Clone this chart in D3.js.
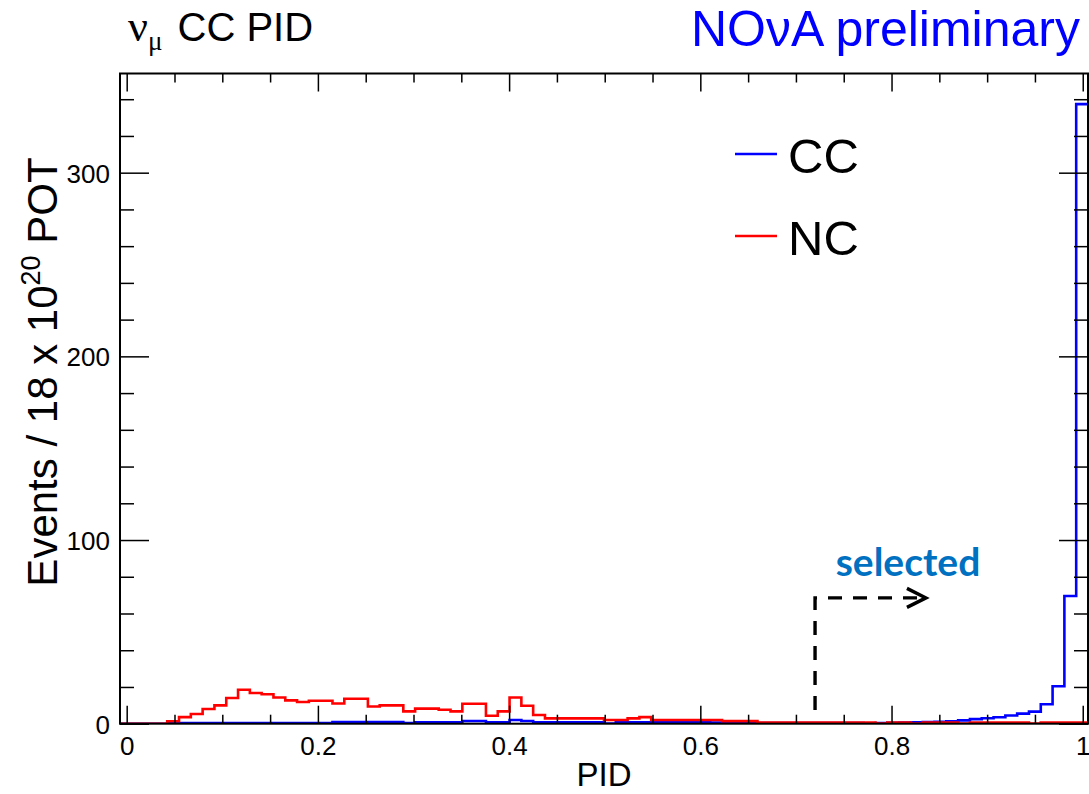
<!DOCTYPE html>
<html><head><meta charset="utf-8">
<script src="https://cdn.jsdelivr.net/npm/d3@7"></script>
<style>body{margin:0;background:#fff} svg{display:block}</style>
</head><body><svg id="c" width="1089" height="794"></svg>
<script>
// ---- data ----
const xRange = [-0.007, 1.0055];   // histogram / axis range
const nBins = 82;
const ccValues = [
  0,0,0,0,0.4,0.4,0.4,0.4,0.4,0.4,
  0.4,0.4,0.4,0.4,0.4,0.4,0.4,0.4,0.9,0.9,
  0.9,0.9,0.9,0.9,0.4,0.8,0.8,0.8,0.8,1.5,
  1.5,0.8,0.8,2.0,1.5,0.8,0.8,0.8,0.8,0.8,
  0.8,0.1,0.7,0.7,0.7,0.7,0.7,0.7,0.7,0.7,
  0.6,0.6,0.6,0.5,0.3,0.3,0.3,0.3,0.3,0.3,
  0.3,0.3,0.3,0.2,0.3,0.5,0.6,0.7,0.9,1.1,
  1.3,1.8,2.5,3.0,3.5,4.5,5.5,6.6,10.6,20.4,
  69.5,337.3
];
const ncValues = [
  0,0,0,0,1.3,3.6,5.3,8.0,10.0,14.0,
  18.5,16.7,16.0,14.3,12.7,11.8,12.5,12.5,11.0,13.6,
  13.6,9.4,10.0,10.0,6.7,8.2,8.2,7.6,6.7,10.9,
  10.9,4.3,6.7,14.3,9.8,4.7,2.9,2.9,2.9,2.9,
  2.9,2.0,2.0,2.9,3.6,2.0,2.0,2.0,2.0,2.0,
  2.0,1.4,1.4,1.4,0.6,0.6,0.6,0.6,0.6,0.6,
  0.6,0.6,0.6,0.6,0.1,0.6,0.6,0.1,0.6,0.6,
  0.6,0.1,0.6,0.6,0.6,0.6,0.6,0.1,0.6,0.6,
  0.6,0.6
];
const seriesNames = ["CC", "NC"];
const seriesColors = ["#0000ff", "#ff0000"];
const xTickValues = [0, 0.2, 0.4, 0.6, 0.8, 1];
const xTickLabels = ["0", "0.2", "0.4", "0.6", "0.8", "1"];
const xMinorValues = [0.05,0.1,0.15,0.25,0.3,0.35,0.45,0.5,0.55,0.65,0.7,0.75,0.85,0.9,0.95];
const yTickValues = [0, 100, 200, 300];
const yTickLabels = ["0", "100", "200", "300"];
const yMinorValues = [20,40,60,80,120,140,160,180,220,240,260,280,320,340];
const yMax = 354;
const selCut = 0.72, selArrowY = 68.5, selBottomY = 7.5, selArrowEnd = 0.836;

// ---- layout ----
const svg = d3.select("#c");
const L = 120, R = 1088, T = 73.5, B = 723.7;
const x = d3.scaleLinear().domain(xRange).range([L, R]);
const y = d3.scaleLinear().domain([0, yMax]).range([B, T]);
const font = "'Liberation Sans', Arial, Helvetica, sans-serif";
const serif = "'Liberation Serif', 'Times New Roman', serif";

svg.append("rect").attr("width",1089).attr("height",794).attr("fill","#fff");

svg.append("clipPath").attr("id","frameClip").append("rect")
  .attr("x",L).attr("y",T).attr("width",R-L).attr("height",B-T);

// bin edges
const edges = d3.range(nBins + 1).map(i => xRange[0] + i * (xRange[1] - xRange[0]) / nBins);
function histPts(vals){
  const p = vals.map((v,i) => [edges[i], v]);
  p.push([edges[nBins], vals[nBins-1]]);
  return p;
}
const line = d3.line().x(d => x(d[0])).y(d => y(d[1])).curve(d3.curveStepAfter);
const gH = svg.append("g").attr("clip-path","url(#frameClip)");
[ccValues, ncValues].forEach((vals, i) => {
  gH.append("path").attr("d", line(histPts(vals)))
    .attr("fill","none").attr("stroke",seriesColors[i]).attr("stroke-width",2.6);
});

// ---- axes ----
function style(g){
  g.select(".domain").remove();
  g.selectAll(".tick line").attr("stroke","#000").attr("stroke-width",1.5);
  g.selectAll("text").attr("font-family",font).attr("font-size",26).attr("fill","#000");
}
svg.append("g").attr("transform",`translate(0,${B})`)
  .call(d3.axisBottom(x).tickValues(xTickValues).tickSizeInner(-18).tickSizeOuter(0)
    .tickPadding(13).tickFormat((d,i)=>xTickLabels[i])).call(style);
svg.append("g").attr("transform",`translate(0,${B})`)
  .call(d3.axisBottom(x).tickValues(xMinorValues).tickSizeInner(-9).tickSizeOuter(0).tickFormat("")).call(style);
svg.append("g").attr("transform",`translate(0,${T})`)
  .call(d3.axisTop(x).tickValues(xTickValues).tickSizeInner(-18).tickSizeOuter(0).tickFormat("")).call(style);
svg.append("g").attr("transform",`translate(0,${T})`)
  .call(d3.axisTop(x).tickValues(xMinorValues).tickSizeInner(-9).tickSizeOuter(0).tickFormat("")).call(style);

svg.append("g").attr("transform",`translate(${L},0)`)
  .call(d3.axisLeft(y).tickValues(yTickValues).tickSizeInner(-29).tickSizeOuter(0)
    .tickPadding(10).tickFormat((d,i)=>yTickLabels[i])).call(style)
  .selectAll("text").attr("dy","0.36em");
svg.append("g").attr("transform",`translate(${L},0)`)
  .call(d3.axisLeft(y).tickValues(yMinorValues).tickSizeInner(-14).tickSizeOuter(0).tickFormat("")).call(style);
svg.append("g").attr("transform",`translate(${R},0)`)
  .call(d3.axisRight(y).tickValues(yTickValues).tickSizeInner(-29).tickSizeOuter(0).tickFormat("")).call(style);
svg.append("g").attr("transform",`translate(${R},0)`)
  .call(d3.axisRight(y).tickValues(yMinorValues).tickSizeInner(-14).tickSizeOuter(0).tickFormat("")).call(style);

// frame
svg.append("rect").attr("x",L).attr("y",T).attr("width",R-L).attr("height",B-T)
  .attr("fill","none").attr("stroke","#000").attr("stroke-width",2);

// axis titles
svg.append("text").attr("x",(L+R)/2).attr("y",786).attr("text-anchor","middle")
  .attr("font-family",font).attr("font-size",33).text("PID");
const yl = svg.append("text").attr("transform","translate(57,372) rotate(-90)")
  .attr("text-anchor","middle").attr("font-family",font).attr("font-size",42);
yl.append("tspan").text("Events / 18 x 10");
yl.append("tspan").attr("font-size",27).attr("dy",-17).text("20");
yl.append("tspan").attr("dy",17).text(" POT");

// title
const t = svg.append("text").attr("x",128).attr("y",41).attr("font-family",font).attr("font-size",40);
t.append("tspan").attr("font-family",serif).attr("font-size",44).text("ν");
t.append("tspan").attr("font-family",serif).attr("font-size",27).attr("dy",9).text("μ");
t.append("tspan").attr("dy",-9).attr("dx",4).text(" CC PID");

svg.append("text").attr("x",1080).attr("y",46).attr("text-anchor","end")
  .attr("font-family",font).attr("font-size",50).attr("fill","#0000ff").text("NOνA preliminary");

// legend
const legY = [154, 236];
seriesNames.forEach((n,i)=>{
  svg.append("line").attr("x1",735).attr("x2",777).attr("y1",legY[i]).attr("y2",legY[i])
    .attr("stroke",seriesColors[i]).attr("stroke-width",2.5);
  svg.append("text").attr("x",788).attr("y",legY[i]+19).attr("font-family",font)
    .attr("font-size",49).attr("fill","#000").text(n);
});

// selected arrow
svg.append("path")
  .attr("d",`M${x(selCut)},${y(selBottomY)} L${x(selCut)},${y(selArrowY)} L${x(selArrowEnd)},${y(selArrowY)}`)
  .attr("fill","none").attr("stroke","#000").attr("stroke-width",3.4).attr("stroke-dasharray","14,11");
svg.append("path")
  .attr("d",`M${x(selArrowEnd)-19},${y(selArrowY)-9.5} L${x(selArrowEnd)},${y(selArrowY)} L${x(selArrowEnd)-19},${y(selArrowY)+9.5}`)
  .attr("fill","none").attr("stroke","#000").attr("stroke-width",3.4);
svg.append("text").attr("x",908).attr("y",576).attr("text-anchor","middle")
  .attr("font-family","Lato, 'Open Sans', sans-serif").attr("font-weight",700)
  .attr("font-size",39).attr("fill","#0070c0").text("selected");
</script></body></html>
